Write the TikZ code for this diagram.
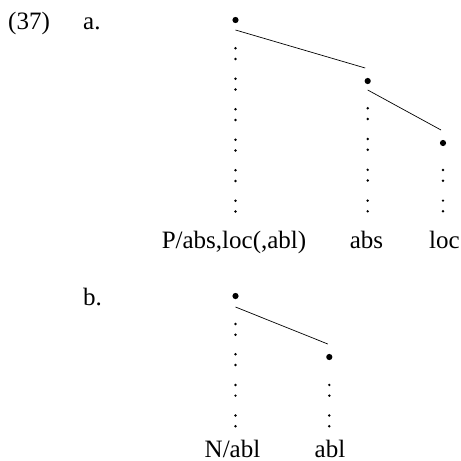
\documentclass[tikz,border=0pt]{standalone}
\usepackage{fontspec}
\setmainfont{Liberation Serif}
\begin{document}
\begin{tikzpicture}[x=1pt,y=-1pt,
  txt/.style={inner sep=0pt,anchor=base,font=\fontsize{25}{29}\selectfont},
  bigdot/.style={circle,fill=black,inner sep=0pt,minimum size=6.2pt},
  smalldot/.style={fill=black},
  branch/.style={line width=0.7pt}]
\useasboundingbox (0,0) rectangle (461,461);
% labels
\node[txt,anchor=base west] (num) at (8,29) {(37)};
\node[txt,anchor=base west] (la) at (83,29) {a.};
\node[txt,anchor=base west] (lb) at (83,305) {b.};
% tree a
\node[bigdot] (a0) at (235.5,20) {};
\node[bigdot] (a1) at (367.7,81) {};
\node[bigdot] (a2) at (443,143) {};
\node[txt] (t0) at (234,248.5) {P/abs,loc(,abl)};
\node[txt] (t1) at (366.5,248.5) {abs};
\node[txt] (t2) at (444.5,248.5) {loc};
\draw[branch] ([yshift=-10pt]a0.center) -- ([xshift=-2.5pt,yshift=13pt]a1.center);
\draw[branch] ([yshift=-9pt]a1.center) -- ([xshift=-2pt,yshift=13pt]a2.center);
\foreach \y in {48.3,78.8,109.3,139.8,170.3,200.8}{
  \fill[smalldot] (235.5,\y) circle (1.35pt) (235.5,\y+10.7) circle (1.35pt);}
\foreach \y in {108.3,139,169.8,200.6}{
  \fill[smalldot] (367.7,\y) circle (1.35pt) (367.7,\y+10.7) circle (1.35pt);}
\foreach \y in {170,200.6}{
  \fill[smalldot] (443,\y) circle (1.35pt) (443,\y+10.7) circle (1.35pt);}
% tree b
\node[bigdot] (b0) at (235.5,296) {};
\node[bigdot] (b1) at (329.3,357) {};
\node[txt] (u0) at (232.5,457) {N/abl};
\node[txt] (u1) at (330,457) {abl};
\draw[branch] ([yshift=-11pt]b0.center) -- ([xshift=-1.5pt,yshift=13pt]b1.center);
\foreach \y in {324,354.3,384.9,415.5}{
  \fill[smalldot] (235.5,\y) circle (1.35pt) (235.5,\y+10.7) circle (1.35pt);}
\foreach \y in {384.9,415.5}{
  \fill[smalldot] (329.3,\y) circle (1.35pt) (329.3,\y+10.7) circle (1.35pt);}
\end{tikzpicture}
\end{document}
